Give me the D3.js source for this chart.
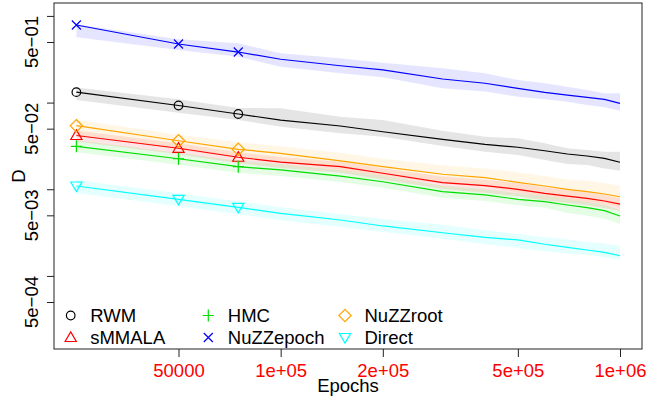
<!DOCTYPE html>
<html lang="en">
<head>
  <meta charset="UTF-8">
  <title>D vs Epochs</title>
  <script src="https://d3js.org/d3.v7.min.js"></script>
  <style>
    body {
      margin: 0;
      background: #fff;
    }
    svg {
      display: block;
      font-family: "Liberation Sans", Arial, sans-serif;
    }
  </style>
</head>
<body>
  <div id="chart"></div>

  <script>
    // ——— data ———
    const epochs = [25000, 50000, 75000, 100000, 150000, 200000, 300000,
                    400000, 500000, 600000, 700000, 800000, 900000, 1000000];

    const rwm   = [0.132, 0.0925, 0.0738, 0.0629, 0.0537, 0.0461, 0.0377, 0.0330, 0.0305, 0.0278, 0.0255, 0.0242, 0.0227, 0.0205];
    const rwmHi = [0.149, 0.109, 0.0866, 0.0859, 0.0687, 0.0629, 0.0474, 0.0404, 0.0387, 0.0339, 0.0297, 0.0284, 0.0271, 0.0271];
    const rwmLo = [0.107, 0.0764, 0.0629, 0.0527, 0.0442, 0.0404, 0.0315, 0.0271, 0.0248, 0.0218, 0.0196, 0.0191, 0.0174, 0.0164];

    const smmala   = [0.0417, 0.0297, 0.0234, 0.0206, 0.0182, 0.0153, 0.0119, 0.0110, 0.00999, 0.00898, 0.00835, 0.00786, 0.00732, 0.00675];
    const smmalaHi = [0.0476, 0.0339, 0.0267, 0.0235, 0.0208, 0.0175, 0.0140, 0.0129, 0.0117, 0.01053, 0.00979, 0.00922, 0.00859, 0.00792];
    const smmalaLo = [0.0356, 0.0253, 0.0199, 0.0176, 0.0155, 0.0130, 0.0101, 0.00914, 0.00830, 0.00746, 0.00694, 0.00653, 0.00608, 0.00561];

    const hmc   = [0.0313, 0.0225, 0.0182, 0.0167, 0.0142, 0.0122, 0.00937, 0.00859, 0.00766, 0.00718, 0.00658, 0.00613, 0.00566, 0.00491];
    const hmcHi = [0.0367, 0.0264, 0.0213, 0.0196, 0.0167, 0.0143, 0.0110, 0.0101, 0.00899, 0.00842, 0.00772, 0.00719, 0.00664, 0.00576];
    const hmcLo = [0.0267, 0.0192, 0.0155, 0.0142, 0.0121, 0.0104, 0.00799, 0.00732, 0.00653, 0.00612, 0.00532, 0.00496, 0.00458, 0.00397];

    const nuzzEpoch   = [0.786, 0.474, 0.383, 0.316, 0.266, 0.238, 0.187, 0.167, 0.146, 0.131, 0.122, 0.115, 0.109, 0.098];
    const nuzzEpochHi = [0.800, 0.537, 0.483, 0.370, 0.324, 0.288, 0.249, 0.218, 0.182, 0.167, 0.152, 0.140, 0.128, 0.128];
    const nuzzEpochLo = [0.567, 0.404, 0.338, 0.259, 0.218, 0.196, 0.146, 0.134, 0.117, 0.109, 0.102, 0.0937, 0.0882, 0.0806];

    const nuzzRoot   = [0.0541, 0.0363, 0.0289, 0.0260, 0.0213, 0.0182, 0.0149, 0.0136, 0.0120, 0.0109, 0.00999, 0.00937, 0.00881, 0.0082];
    const nuzzRootHi = [0.0635, 0.0426, 0.0348, 0.0313, 0.0263, 0.0225, 0.0189, 0.0173, 0.0156, 0.0142, 0.0130, 0.01255, 0.0118, 0.0110];
    const nuzzRootLo = [0.0426, 0.0286, 0.0228, 0.0205, 0.0168, 0.0143, 0.0117, 0.0107, 0.0092, 0.00836, 0.00766, 0.00719, 0.00676, 0.00629];

    const direct   = [0.0109, 0.00766, 0.00619, 0.00528, 0.00442, 0.00377, 0.00315, 0.00279, 0.00260, 0.00232, 0.00214, 0.00199, 0.00187, 0.00171];
    const directHi = [0.01279, 0.00899, 0.00726, 0.00619, 0.00518, 0.00454, 0.00390, 0.00336, 0.00305, 0.00279, 0.00265, 0.00246, 0.00237, 0.00223];
    const directLo = [0.00905, 0.00636, 0.00514, 0.00439, 0.00367, 0.00321, 0.00269, 0.00232, 0.00210, 0.00193, 0.00182, 0.00174, 0.00164, 0.00154];

    const seriesNames  = ["RWM", "sMMALA", "HMC", "NuZZepoch", "NuZZroot", "Direct"];
    const seriesColors = ["#000000", "#ff0000", "#00dd00", "#0000ff", "#ffa500", "#00ffff"];
    const seriesShapes = ["circle", "triangle", "plus", "cross", "diamond", "triangleDown"];

    const xTicks = [50000, 100000, 200000, 500000, 1000000];
    const xTickLabels = ["50000", "1e+05", "2e+05", "5e+05", "1e+06"];
    const yTicks = [1, 0.5, 0.1, 0.05, 0.01, 0.005, 0.001, 0.0005];
    const yTickLabels = ["", "5e\u221201", "", "5e\u221202", "", "5e\u221203", "", "5e\u221204"];

    const markerCount = 3; // symbols drawn on the first three epochs only

    // ——— layout ———
    const width = 668, height = 400;
    const plot = { left: 54, right: 642, top: 3, bottom: 349 };
    const fontSize = 18.5;

    const svg = d3.select("#chart").append("svg")
      .attr("width", width)
      .attr("height", height);

    const x = d3.scaleLog()
      .domain([21480, 1.161e6])
      .range([plot.left, plot.right]);

    const y = d3.scaleLog()
      .domain([1.435e-4, 1.409])
      .range([plot.bottom, plot.top]);

    const series = [
      { mid: rwm,       lo: rwmLo,       hi: rwmHi },
      { mid: smmala,    lo: smmalaLo,    hi: smmalaHi },
      { mid: hmc,       lo: hmcLo,       hi: hmcHi },
      { mid: nuzzEpoch, lo: nuzzEpochLo, hi: nuzzEpochHi },
      { mid: nuzzRoot,  lo: nuzzRootLo,  hi: nuzzRootHi },
      { mid: direct,    lo: directLo,    hi: directHi }
    ].map((s, i) => ({
      ...s,
      name: seriesNames[i],
      color: seriesColors[i],
      shape: seriesShapes[i]
    }));

    // ——— bands, then lines ———
    const area = d3.area()
      .x((d, i) => x(epochs[i]))
      .y0(d => y(d[0]))
      .y1(d => y(d[1]));

    const line = d3.line()
      .x((d, i) => x(epochs[i]))
      .y(d => y(d));

    svg.append("g").selectAll("path")
      .data(series)
      .join("path")
        .attr("d", s => area(s.lo.map((v, i) => [v, s.hi[i]])))
        .attr("fill", s => s.color)
        .attr("fill-opacity", 0.1)
        .attr("stroke", "none");

    svg.append("g").selectAll("path")
      .data(series)
      .join("path")
        .attr("d", s => line(s.mid))
        .attr("fill", "none")
        .attr("stroke", s => s.color)
        .attr("stroke-width", 1.2);

    // R-like plotting symbols
    function symbolPath(shape) {
      switch (shape) {
        case "circle":
          return "M4.3,0A4.3,4.3 0 1,1 -4.3,0A4.3,4.3 0 1,1 4.3,0Z";
        case "triangle":
          return "M0,-5.6L5.6,4L-5.6,4Z";
        case "triangleDown":
          return "M0,5.6L5.6,-4L-5.6,-4Z";
        case "plus":
          return "M-5.5,0H5.5M0,-6V6";
        case "cross":
          return "M-4.5,-4.5L4.5,4.5M-4.5,4.5L4.5,-4.5";
        case "diamond":
          return "M0,-6.2L6.2,0L0,6.2L-6.2,0Z";
      }
    }

    const markers = svg.append("g");
    series.forEach(s => {
      markers.selectAll(null)
        .data(s.mid.slice(0, markerCount))
        .join("path")
          .attr("transform", (d, i) => `translate(${x(epochs[i])},${y(d)})`)
          .attr("d", symbolPath(s.shape))
          .attr("fill", "none")
          .attr("stroke", s.color)
          .attr("stroke-width", 1.2);
    });

    // ——— box ———
    svg.append("rect")
      .attr("x", plot.left)
      .attr("y", plot.top)
      .attr("width", plot.right - plot.left)
      .attr("height", plot.bottom - plot.top)
      .attr("fill", "none")
      .attr("stroke", "#222")
      .attr("stroke-width", 1);

    // ——— x axis ———
    const xAxis = svg.append("g")
      .attr("transform", `translate(0,${plot.bottom})`)
      .call(d3.axisBottom(x)
        .tickValues(xTicks)
        .tickSize(8)
        .tickPadding(0)
        .tickFormat((d, i) => xTickLabels[i]));
    xAxis.select(".domain").remove();
    xAxis.selectAll(".tick line").attr("stroke", "#222");
    xAxis.selectAll(".tick text")
      .attr("fill", "#ff0000")
      .attr("font-size", fontSize)
      .attr("font-family", "Liberation Sans, Arial, sans-serif")
      .attr("dy", null)
      .attr("y", 376.5 - plot.bottom);

    // ——— y axis ———
    const yAxis = svg.append("g")
      .attr("transform", `translate(${plot.left},0)`)
      .call(d3.axisLeft(y)
        .tickValues(yTicks)
        .tickSize(7)
        .tickFormat(""));
    yAxis.select(".domain").remove();
    yAxis.selectAll(".tick line").attr("stroke", "#222");

    svg.append("g").selectAll("text")
      .data(yTicks)
      .join("text")
        .attr("transform", d => `translate(38,${y(d)}) rotate(-90)`)
        .attr("text-anchor", "middle")
        .attr("font-size", fontSize)
        .attr("fill", "#000")
        .text((d, i) => yTickLabels[i]);

    // axis titles
    svg.append("text")
      .attr("x", (plot.left + plot.right) / 2)
      .attr("y", 391.5)
      .attr("text-anchor", "middle")
      .attr("font-size", fontSize)
      .text("Epochs");

    svg.append("text")
      .attr("transform", `translate(25,${(plot.top + plot.bottom) / 2}) rotate(-90)`)
      .attr("text-anchor", "middle")
      .attr("font-size", fontSize)
      .text("D");

    // ——— legend (3 columns x 2 rows, no box) ———
    const legendCols = [70.7, 208.3, 345];
    const legendRows = [315.5, 337.5];
    const legend = svg.append("g");
    series.forEach((s, i) => {
      const cx = legendCols[Math.floor(i / 2)];
      const cy = legendRows[i % 2];
      legend.append("path")
        .attr("transform", `translate(${cx},${cy})`)
        .attr("d", symbolPath(s.shape))
        .attr("fill", "none")
        .attr("stroke", s.color)
        .attr("stroke-width", 1.2);
      legend.append("text")
        .attr("x", cx + 19.5)
        .attr("y", cy + 6.7)
        .attr("font-size", fontSize)
        .attr("fill", "#000")
        .text(s.name);
    });
  </script>
</body>
</html>
